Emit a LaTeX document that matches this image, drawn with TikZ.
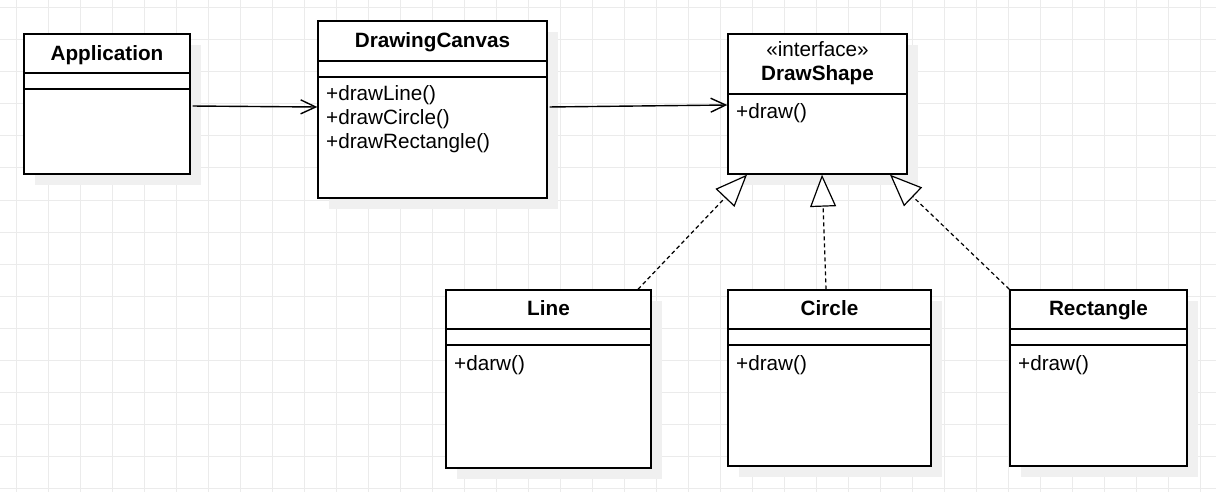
\documentclass[tikz,border=0pt]{standalone}
\usepackage{fontspec}
\setmainfont{Liberation Sans}
\usetikzlibrary{arrows.meta,shadows}

\begin{document}
\begin{tikzpicture}[
    x=1pt, y=-1pt,
    gridline/.style={draw=black!8, line width=1pt},
    classbox/.style={rectangle, draw, line width=1.4pt, fill=white, inner sep=0pt,
        general shadow={fill=black!6, draw=none, shadow xshift=11pt, shadow yshift=-11pt}},
    classname/.style={anchor=base, inner sep=0pt, font=\fontsize{20.7}{24}\selectfont\bfseries},
    stereotype/.style={anchor=base, inner sep=0pt, font=\fontsize{20.7}{24}\selectfont},
    members/.style={anchor=north west, inner sep=0pt, align=left, font=\fontsize{20.7}{24}\selectfont},
    divider/.style={line width=1.4pt},
    uses/.style={line width=1.4pt, -{Straight Barb[length=15pt, width=14pt]}},
    realizes/.style={line width=1.2pt, dash pattern=on 4pt off 3pt, -{Triangle[length=32pt, width=26pt, fill=white]}}
]

\useasboundingbox (0,0) rectangle (1216,492);
\fill[white] (0,0) rectangle (1216,492);

% background grid
\foreach \gx in {16,48,...,1200} \draw[gridline] (\gx,0) -- (\gx,492);
\foreach \gy in {8,40,...,488} \draw[gridline] (0,\gy) -- (1216,\gy);

% classes
\node[classbox, minimum width=166pt, minimum height=140pt] (app) at (107,104) {};
\node[classname] (apptitle) at (107,60.5) {Application};
\draw[divider] (app.west |- 0,73) -- (app.east |- 0,73);
\draw[divider] (app.west |- 0,89) -- (app.east |- 0,89);

\node[classbox, minimum width=229pt, minimum height=177pt] (canvas) at (432.5,109.5) {};
\node[classname] (canvastitle) at (432.5,48) {DrawingCanvas};
\draw[divider] (canvas.west |- 0,61) -- (canvas.east |- 0,61);
\draw[divider] (canvas.west |- 0,77) -- (canvas.east |- 0,77);
\node[members] (canvasops) at (326,85.5) {+drawLine()\\+drawCircle()\\+drawRectangle()};

\node[classbox, minimum width=179pt, minimum height=140pt] (drawshape) at (817.5,104) {};
\node[stereotype] (shapestereo) at (817.5,56.5) {«interface»};
\node[classname] (shapetitle) at (817.5,80.5) {DrawShape};
\draw[divider] (drawshape.west |- 0,94) -- (drawshape.east |- 0,94);
\node[members] (shapeops) at (736,103) {+draw()};

\node[classbox, minimum width=205pt, minimum height=178pt] (lineclass) at (548.5,379) {};
\node[classname] (linetitle) at (548.5,315.5) {Line};
\draw[divider] (lineclass.west |- 0,329) -- (lineclass.east |- 0,329);
\draw[divider] (lineclass.west |- 0,345) -- (lineclass.east |- 0,345);
\node[members] (lineops) at (454,355) {+darw()};

\node[classbox, minimum width=203pt, minimum height=176pt] (circleclass) at (829.5,378) {};
\node[classname] (circletitle) at (829.5,315.5) {Circle};
\draw[divider] (circleclass.west |- 0,329) -- (circleclass.east |- 0,329);
\draw[divider] (circleclass.west |- 0,345) -- (circleclass.east |- 0,345);
\node[members] (circleops) at (736,355) {+draw()};

\node[classbox, minimum width=177pt, minimum height=176pt] (rectclass) at (1098.5,378) {};
\node[classname] (recttitle) at (1098.5,315.5) {Rectangle};
\draw[divider] (rectclass.west |- 0,329) -- (rectclass.east |- 0,329);
\draw[divider] (rectclass.west |- 0,345) -- (rectclass.east |- 0,345);
\node[members] (rectops) at (1018,355) {+draw()};

% associations
\draw[uses, shorten <=2pt] ([yshift=-2pt]app.east) -- ([yshift=2.5pt]canvas.west);
\draw[uses, shorten <=2pt] ([yshift=2.5pt]canvas.east) -- ([yshift=-1pt]drawshape.west);

% realizations
\draw[realizes] ([xshift=89.5pt]lineclass.north) -- ([xshift=-70.5pt]drawshape.south);
\draw[realizes] ([xshift=-3.5pt]circleclass.north) -- ([xshift=4.5pt]drawshape.south);
\draw[realizes] (rectclass.north west) -- ([xshift=72.5pt]drawshape.south);

\end{tikzpicture}
\end{document}
